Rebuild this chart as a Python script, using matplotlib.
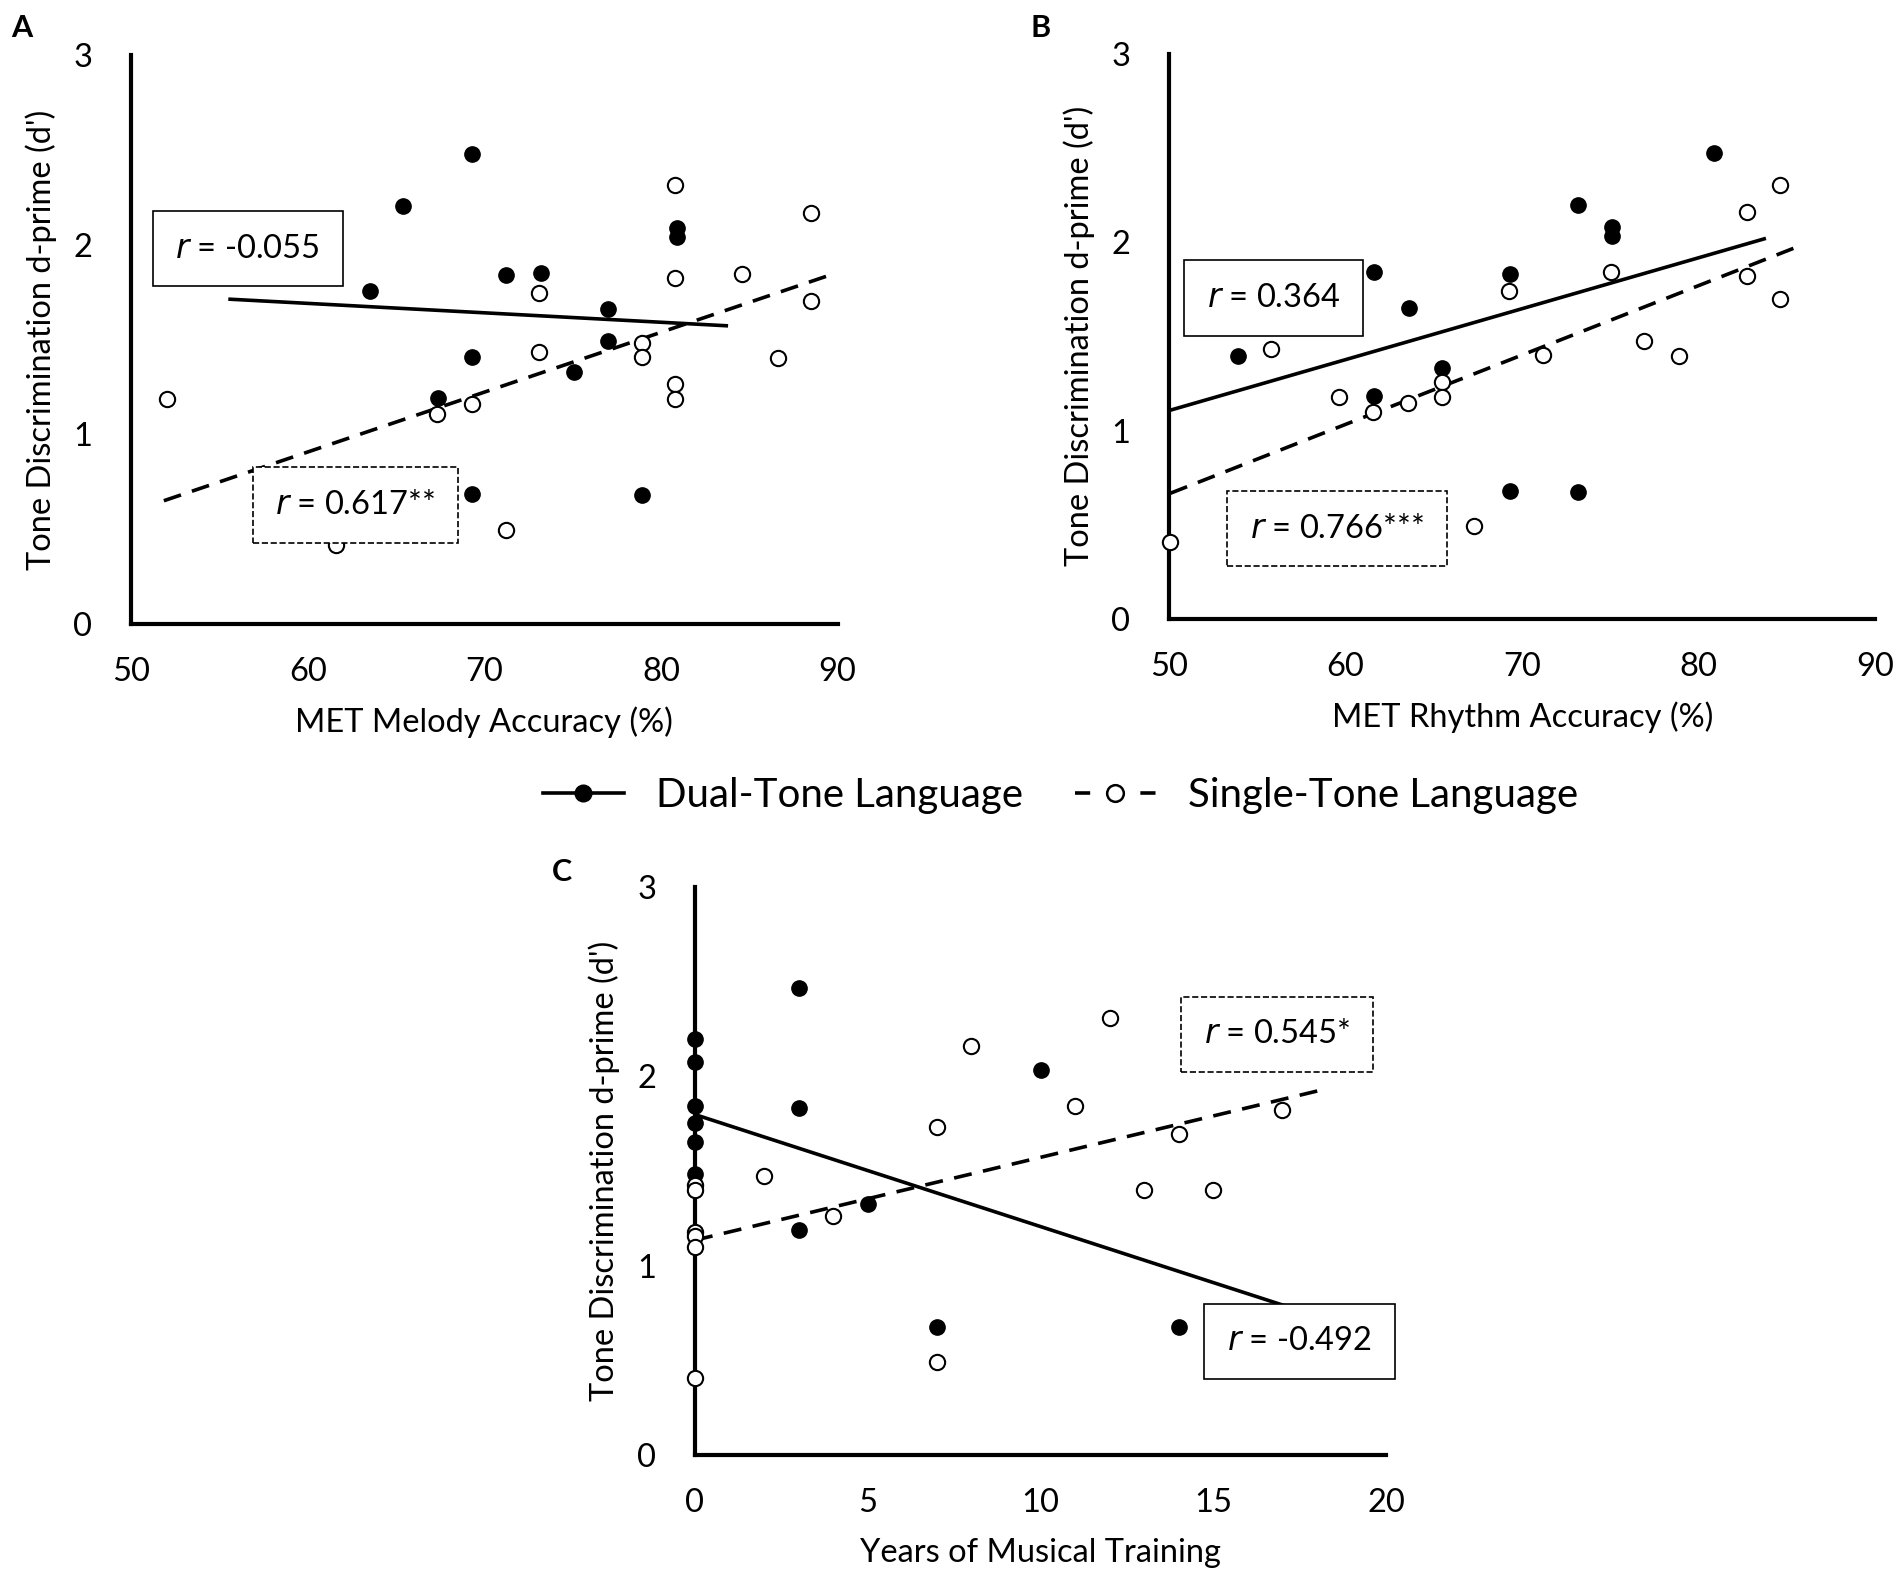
import numpy as np
import matplotlib.pyplot as plt
from matplotlib.lines import Line2D

plt.rcParams['font.family'] = ['Lato', 'DejaVu Sans']

# Panel A - MET melody accuracy
a_dual_x = [69.3, 65.4, 63.5, 71.2, 73.2, 80.9, 80.9, 77.0, 77.0, 69.3, 75.1, 67.4, 69.3, 78.9]
a_dual_y = [2.48, 2.205, 1.756, 1.84, 1.85, 2.09, 2.04, 1.66, 1.49, 1.405, 1.33, 1.19, 0.685, 0.677]
a_single_x = [52.0, 80.8, 88.5, 80.8, 84.6, 73.1, 88.5, 73.1, 78.9, 78.9, 86.6, 80.8, 80.8, 69.3, 67.3, 71.2, 61.6]
a_single_y = [1.187, 2.315, 2.17, 1.826, 1.846, 1.746, 1.705, 1.433, 1.479, 1.41, 1.403, 1.267, 1.187, 1.159, 1.105, 0.497, 0.415]
a_dual_fit_x = [55.5, 83.8]
a_dual_fit_y = [1.713, 1.572]
a_single_fit_x = [51.85, 89.6]
a_single_fit_y = [0.649, 1.841]

# Panel B - MET rhythm accuracy
b_dual_x = [80.83, 73.14, 75.06, 75.06, 61.6, 69.3, 63.56, 53.9, 65.45, 61.6, 69.3, 73.14]
b_dual_y = [2.474, 2.197, 2.082, 2.033, 1.841, 1.831, 1.649, 1.395, 1.331, 1.182, 0.677, 0.672]
b_single_x = [84.6, 82.72, 75.0, 82.72, 69.23, 84.6, 76.9, 55.8, 71.15, 78.87, 65.45, 59.65, 65.45, 63.53, 61.57, 67.27, 50.03]
b_single_y = [2.305, 2.159, 1.841, 1.821, 1.741, 1.697, 1.477, 1.431, 1.403, 1.395, 1.259, 1.179, 1.179, 1.146, 1.097, 0.492, 0.408]
b_dual_fit_x = [50.07, 83.8]
b_dual_fit_y = [1.108, 2.02]
b_single_fit_x = [50.07, 85.9]
b_single_fit_y = [0.667, 1.987]

# Panel C - years of musical training
c_dual_x = [3, 0, 0, 0, 0, 0, 0, 0, 3, 10, 5, 3, 7, 14]
c_dual_y = [2.467, 2.194, 2.073, 1.841, 1.753, 1.651, 1.485, 1.40, 1.833, 2.031, 1.325, 1.187, 0.676, 0.676]
c_single_x = [12, 8, 11, 17, 7, 14, 2, 0, 0, 13, 15, 4, 0, 0, 0, 7, 0]
c_single_y = [2.307, 2.158, 1.841, 1.822, 1.733, 1.692, 1.474, 1.424, 1.40, 1.399, 1.399, 1.259, 1.176, 1.154, 1.099, 0.489, 0.408]
c_dual_fit_x = [0, 17.05]
c_dual_fit_y = [1.797, 0.789]
c_single_fit_x = [0, 18.07]
c_single_fit_y = [1.134, 1.924]

DASH = (5, 3.2)
FS = 23.5

fig = plt.figure(figsize=(19.04, 15.79), dpi=100)


def panel(rect, xlim, xticks, xlabel, dx, dy, sx, sy, dfx, dfy, sfx, sfy):
    ax = fig.add_axes(rect)
    ax.set_xlim(*xlim)
    ax.set_ylim(0, 3)
    ax.set_xticks(xticks)
    ax.set_yticks([0, 1, 2, 3])
    for s in ['top', 'right']:
        ax.spines[s].set_visible(False)
    for s in ['left', 'bottom']:
        ax.spines[s].set_linewidth(3)
    ax.tick_params(length=0, labelsize=FS)
    ax.tick_params(axis='y', pad=28)
    ax.tick_params(axis='x', pad=24)
    ax.set_xlabel(xlabel, fontsize=FS, labelpad=14)
    ax.set_ylabel("Tone Discrimination d-prime (d')", fontsize=FS, labelpad=12)
    ax.plot(dfx, dfy, color='black', lw=2.6, solid_capstyle='butt')
    ax.plot(sfx, sfy, color='black', lw=2.6, dashes=DASH)
    ax.plot(dx, dy, 'o', color='black', ms=11, clip_on=False, zorder=3)
    ax.plot(sx, sy, 'o', mfc='white', mec='black', mew=1.5, ms=11, clip_on=False, zorder=4)
    return ax


def rbox(ax, x, y, txt, dashed=False):
    ax.text(x, y, r'$\it{r}$' + txt, fontsize=FS, ha='center', va='center', zorder=5,
            bbox=dict(boxstyle='square,pad=0.7', fc='white', ec='black',
                      lw=1.2, ls='--' if dashed else '-'))


axA = panel([0.0689, 0.605, 0.371, 0.360], (50, 90), [50, 60, 70, 80, 90], 'MET Melody Accuracy (%)',
            a_dual_x, a_dual_y, a_single_x, a_single_y,
            a_dual_fit_x, a_dual_fit_y, a_single_fit_x, a_single_fit_y)
rbox(axA, 56.6, 1.98, ' = -0.055')
rbox(axA, 62.7, 0.625, ' = 0.617**', dashed=True)

axB = panel([0.614, 0.608, 0.371, 0.358], (50, 90), [50, 60, 70, 80, 90], 'MET Rhythm Accuracy (%)',
            b_dual_x, b_dual_y, b_single_x, b_single_y,
            b_dual_fit_x, b_dual_fit_y, b_single_fit_x, b_single_fit_y)
rbox(axB, 55.9, 1.705, ' = 0.364')
rbox(axB, 59.5, 0.48, ' = 0.766***', dashed=True)

axC = panel([0.365, 0.0785, 0.363, 0.36], (0, 20), [0, 5, 10, 15, 20], 'Years of Musical Training',
            c_dual_x, c_dual_y, c_single_x, c_single_y,
            c_dual_fit_x, c_dual_fit_y, c_single_fit_x, c_single_fit_y)
rbox(axC, 16.85, 2.22, ' = 0.545*', dashed=True)
rbox(axC, 17.5, 0.60, ' = -0.492')

fig.text(0.006, 0.982, 'A', fontsize=22, fontweight='bold', va='center')
fig.text(0.541, 0.982, 'B', fontsize=22, fontweight='bold', va='center')
fig.text(0.290, 0.448, 'C', fontsize=22, fontweight='bold', va='center')

handles = [Line2D([], [], color='black', lw=2.6, marker='o', ms=12),
           Line2D([], [], color='black', lw=2.6, dashes=(4.2, 13.9), marker='o', ms=12,
                  mfc='white', mec='black', mew=1.8)]
fig.legend(handles, ['Dual-Tone Language', 'Single-Tone Language'], loc='center',
           bbox_to_anchor=(0.557, 0.496), ncol=2, frameon=False, fontsize=29,
           handlelength=2.0, columnspacing=1.3, handletextpad=0.8)

fig.savefig('out.png', dpi=100)
